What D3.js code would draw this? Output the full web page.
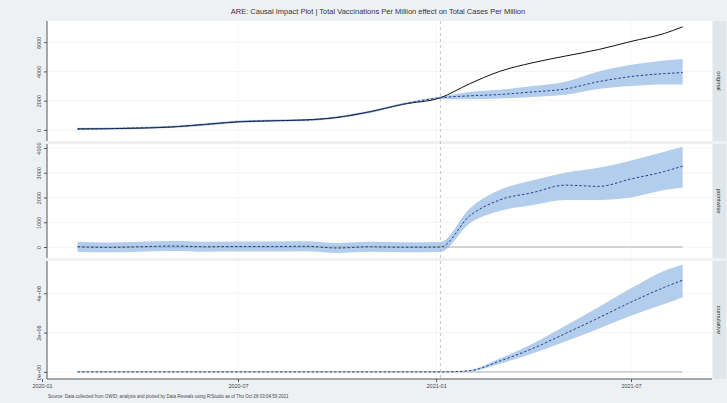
<!DOCTYPE html>
<html><head><meta charset="utf-8">
<script src="https://cdn.jsdelivr.net/npm/d3@7"></script>
<style>body{margin:0;background:#eef1f4;}svg{display:block;font-family:"Liberation Sans",Arial,sans-serif;}</style>
</head><body><svg id="c" width="727" height="403"></svg>
<script>
const titleText = "ARE: Causal Impact Plot | Total Vaccinations Per Million effect on Total Cases Per Million";
const sourceText = "Source: Data collected from OWID; analysis and plotted by Data Reveals using R/Studio as of Thu Oct 28 03:04:59 2021";
const panelNames = ["original", "pointwise", "cumulative"];
const interventionDate = "2021-01-05";
const xTickDates = ["2020-01-01", "2020-07-01", "2021-01-01", "2021-07-01"];
const dates = ["2020-02-03","2020-03-01","2020-04-01","2020-05-01","2020-06-01","2020-07-01","2020-08-01","2020-09-01","2020-10-01","2020-11-01","2020-12-01","2021-01-05","2021-02-01","2021-03-01","2021-04-01","2021-05-01","2021-06-01","2021-07-01","2021-08-01","2021-08-18"];
// original panel
const actual =     [70, 80, 120, 200, 380, 550, 620, 680, 850, 1250, 1750, 2200, 3150, 4000, 4600, 5050, 5500, 6050, 6600, 7050];
const predicted =  [60, 85, 140, 210, 370, 560, 630, 670, 860, 1240, 1760, 2200, 2330, 2420, 2600, 2800, 3300, 3650, 3850, 3920];
const predLower =  [-20, 5, 60, 130, 290, 480, 550, 590, 780, 1160, 1680, 2120, 2100, 2150, 2250, 2400, 2800, 3000, 3100, 3100];
const predUpper =  [140, 165, 220, 290, 450, 640, 710, 750, 940, 1320, 1840, 2280, 2600, 2750, 3000, 3300, 4000, 4450, 4750, 4850];
// pointwise panel
const pointwise =  [10, -15, 10, 40, 10, 20, 20, 30, -40, 10, -10, 0, 1250, 1900, 2200, 2500, 2450, 2750, 3050, 3270];
const pointLower = [-190, -215, -190, -160, -190, -180, -180, -170, -240, -190, -210, -200, 950, 1450, 1700, 1900, 1900, 2000, 2300, 2400];
const pointUpper = [210, 185, 210, 240, 210, 220, 220, 230, 160, 210, 190, 200, 1550, 2300, 2700, 3000, 3200, 3500, 3850, 4050];
// cumulative panel
const cumulative = [0, 0, 0, 0, 0, 0, 0, 0, 0, 0, 0, 0, 60000, 550000, 1200000, 1950000, 2750000, 3550000, 4300000, 4670000];
const cumLower =   [0, 0, 0, 0, 0, 0, 0, 0, 0, 0, 0, 0, 30000, 420000, 950000, 1550000, 2200000, 2850000, 3450000, 3800000];
const cumUpper =   [0, 0, 0, 0, 0, 0, 0, 0, 0, 0, 0, 0, 90000, 680000, 1450000, 2350000, 3300000, 4250000, 5150000, 5450000];
const yTicks1 = [0, 2000, 4000, 6000];
const yTicks2 = [0, 1000, 2000, 3000, 4000];
const yTicks3 = [0, 2000000, 4000000];
const yLabels3 = ["0e+00", "2e+06", "4e+06"];

const parse = d3.timeParse("%Y-%m-%d");
const svg = d3.select("#c");
const x = d3.scaleTime().domain([parse("2020-01-01"), parse("2021-07-01")]).range([42, 631]);
const left = 47, right = 712;

svg.append("text").attr("x", 378).attr("y", 14).attr("text-anchor", "middle")
  .attr("font-size", 7.5).attr("fill", "#333").text(titleText);

const panels = [
  {name: panelNames[0], top: 21, bottom: 141, domain: [-760, 7450], ticks: yTicks1, labels: yTicks1.map(String),
   line: actual, mean: predicted, lo: predLower, hi: predUpper, zero: false},
  {name: panelNames[1], top: 144, bottom: 258, domain: [-444, 4162], ticks: yTicks2, labels: yTicks2.map(String),
   line: null, mean: pointwise, lo: pointLower, hi: pointUpper, zero: true},
  {name: panelNames[2], top: 261, bottom: 379, domain: [-360000, 5640000], ticks: yTicks3, labels: yLabels3,
   line: null, mean: cumulative, lo: cumLower, hi: cumUpper, zero: true}
];

const pts = dates.map(parse);
panels.forEach((p, pi) => {
  const y = d3.scaleLinear().domain(p.domain).range([p.bottom, p.top]);
  const g = svg.append("g");
  g.append("rect").attr("x", left).attr("y", p.top).attr("width", right - left).attr("height", p.bottom - p.top).attr("fill", "#fff");
  // grid
  p.ticks.forEach(t => g.append("line").attr("x1", left).attr("x2", right).attr("y1", y(t)).attr("y2", y(t)).attr("stroke", "#f1f1ee").attr("stroke-width", 0.8));
  xTickDates.forEach(d => g.append("line").attr("x1", x(parse(d))).attr("x2", x(parse(d))).attr("y1", p.top).attr("y2", p.bottom).attr("stroke", "#f4f4f1").attr("stroke-width", 0.8));
  // band
  const area = d3.area().x((d, i) => x(pts[i])).y0((d, i) => y(p.lo[i])).y1((d, i) => y(p.hi[i])).curve(d3.curveMonotoneX);
  g.append("path").datum(dates).attr("d", area).attr("fill", "#b3cdec").attr("stroke", "none");
  if (p.zero) {
    g.append("line").attr("x1", x(pts[0])).attr("x2", x(pts[pts.length - 1])).attr("y1", y(0)).attr("y2", y(0)).attr("stroke", "#9a9a9a").attr("stroke-width", 0.8);
  }
  const ln = arr => d3.line().x((d, i) => x(pts[i])).y((d, i) => y(arr[i])).curve(d3.curveMonotoneX);
  if (p.line) g.append("path").datum(dates).attr("d", ln(p.line)).attr("fill", "none").attr("stroke", "#111").attr("stroke-width", 1);
  g.append("path").datum(dates).attr("d", ln(p.mean)).attr("fill", "none").attr("stroke", "#24408e").attr("stroke-width", 1).attr("stroke-dasharray", "2.5,2");
  // y axis
  const ax = d3.axisLeft(y).tickValues(p.ticks).tickFormat((d, i) => p.labels[i]).tickSize(3);
  const axg = g.append("g").attr("transform", `translate(${left},0)`).call(ax);
  axg.select(".domain").attr("stroke", "#555").attr("d", `M0,${p.top}V${p.bottom}`);
  axg.selectAll(".tick line").attr("stroke", "#555");
  axg.selectAll(".tick text").attr("font-size", 5.5).attr("fill", "#444")
    .attr("transform", "rotate(-90)").attr("x", 0).attr("dy", 0).attr("y", -6).attr("text-anchor", "middle")
    .attr("dominant-baseline", "auto");
  // strip
  g.append("rect").attr("x", right + 1).attr("y", p.top).attr("width", 13).attr("height", p.bottom - p.top).attr("fill", "#e0e6ea");
  g.append("text").attr("transform", `translate(${right + 5},${(p.top + p.bottom) / 2}) rotate(90)`)
    .attr("text-anchor", "middle").attr("font-size", 6).attr("fill", "#333").text(p.name);
});

// intervention line
svg.append("line").attr("x1", x(parse(interventionDate))).attr("x2", x(parse(interventionDate)))
  .attr("y1", 21).attr("y2", 379).attr("stroke", "#b5b5b5").attr("stroke-width", 0.8).attr("stroke-dasharray", "3,3");

// x axis
const xa = d3.axisBottom(x).tickValues(xTickDates.map(parse)).tickFormat(d3.timeFormat("%Y-%m")).tickSize(3);
const xg = svg.append("g").attr("transform", "translate(0,379)").call(xa);
xg.select(".domain").attr("stroke", "#555").attr("d", `M${left},0H${right}`);
xg.selectAll(".tick line").attr("stroke", "#555");
xg.selectAll(".tick text").attr("font-size", 5.5).attr("fill", "#444").attr("y", 5);

svg.append("text").attr("x", 48).attr("y", 398).attr("font-size", 4.5).attr("fill", "#445").text(sourceText);
</script></body></html>
